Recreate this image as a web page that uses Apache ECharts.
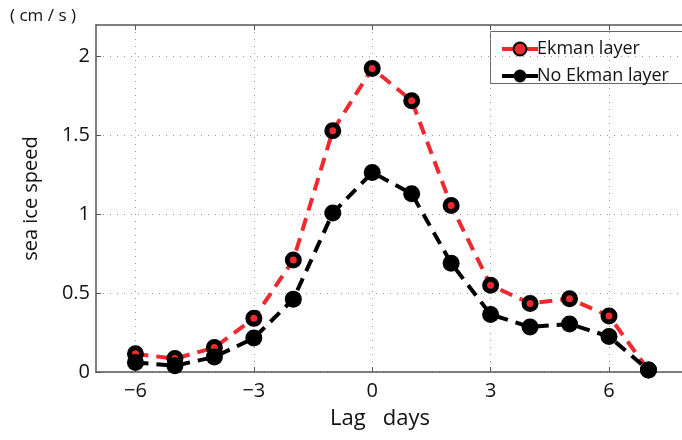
<!DOCTYPE html>
<html>
<head>
<meta charset="utf-8">
<script src="https://cdn.jsdelivr.net/npm/echarts@6/dist/echarts.min.js"></script>
<style>html,body{margin:0;padding:0;background:#fff}#c{width:682px;height:440px}</style>
</head>
<body>
<div id="c"></div>
<script>
const lagDays = [-6, -5, -4, -3, -2, -1, 0, 1, 2, 3, 4, 5, 6, 7];
const ekmanLayer = [0.115, 0.085, 0.155, 0.34, 0.71, 1.53, 1.925, 1.72, 1.055, 0.55, 0.435, 0.465, 0.355, 0.012];
const noEkmanLayer = [0.06, 0.04, 0.095, 0.215, 0.462, 1.008, 1.265, 1.13, 0.69, 0.365, 0.285, 0.305, 0.225, 0.012];
const xTicks = [-6, -3, 0, 3, 6];
const yTicks = [0, 0.5, 1, 1.5, 2];
const seriesNames = ['Ekman layer', 'No Ekman layer'];

const FONT = '"Open Sans", "DejaVu Sans", sans-serif';
const pair = (xs, ys) => xs.map((x, i) => [x, ys[i]]);
const fmtNum = v => String(v).replace('-', '\u2212');

const chart = echarts.init(document.getElementById('c'), null, {renderer: 'canvas'});
chart.setOption({
  animation: false,
  backgroundColor: '#fff',
  grid: {left: 96, right: 0, top: 25, bottom: 68, containLabel: false},
  xAxis: [{
    type: 'value', min: -7, max: 7.85, position: 'bottom',
    axisLine: {show: true, onZero: false, lineStyle: {color: '#555', width: 1.5}},
    axisTick: {show: true, inside: true, length: 5, customValues: xTicks, lineStyle: {color: '#555'}},
    axisLabel: {customValues: xTicks, formatter: fmtNum, fontFamily: FONT, fontSize: 20, color: '#111', margin: 9},
    splitLine: {show: true, lineStyle: {color: '#999', width: 1, type: [1, 6]}}
  }, {
    type: 'value', min: -7, max: 7.85, position: 'top',
    axisLine: {show: true, onZero: false, lineStyle: {color: '#555', width: 1.5}},
    axisTick: {show: true, inside: true, length: 5, customValues: xTicks, lineStyle: {color: '#555'}},
    axisLabel: {show: false},
    splitLine: {show: false}
  }],
  yAxis: {
    type: 'value', min: 0, max: 2.2,
    axisLine: {show: true, onZero: false, lineStyle: {color: '#555', width: 1.5}},
    axisTick: {show: true, inside: true, length: 5, customValues: yTicks, lineStyle: {color: '#555'}},
    axisLabel: {customValues: yTicks, fontFamily: FONT, fontSize: 20, color: '#111', margin: 6},
    splitLine: {show: true, lineStyle: {color: '#999', width: 1, type: [1, 6]}},
    name: 'sea ice speed', nameLocation: 'middle', nameGap: 55, nameRotate: 90,
    nameTextStyle: {fontFamily: FONT, fontSize: 20, color: '#111'}
  },
  legend: {
    left: 495, top: 35, orient: 'vertical', itemGap: 9, itemWidth: 36, itemHeight: 16,
    textStyle: {fontFamily: FONT, fontSize: 18, color: '#111', padding: [0, 0, 0, -6]},
    lineStyle: {type: 'solid', width: 4},
    data: seriesNames
  },
  graphic: [
    {type: 'rect', z: 0, shape: {x: 490.5, y: 31.5, width: 200, height: 52}, style: {fill: '#fff', stroke: '#666', lineWidth: 1}},
    {type: 'text', left: 10, top: 8, style: {text: '( cm / s )', font: '17px ' + FONT, fill: '#111'}},
    {type: 'text', left: 330, top: 408, style: {text: 'Lag   days', font: '22px ' + FONT, fill: '#111'}}
  ],
  series: [{
    name: seriesNames[0], type: 'line', data: pair(lagDays, ekmanLayer),
    lineStyle: {color: '#ee2a2e', width: 4, type: [13, 8]},
    symbol: 'circle', symbolSize: 12,
    itemStyle: {color: '#ee2a2e', borderColor: '#000', borderWidth: 5},
    z: 3
  }, {
    name: seriesNames[1], type: 'line', data: pair(lagDays, noEkmanLayer),
    lineStyle: {color: '#000', width: 4, type: [13, 8]},
    symbol: 'circle', symbolSize: 17,
    itemStyle: {color: '#000', borderWidth: 0},
    z: 4
  }]
});
</script>
</body>
</html>
